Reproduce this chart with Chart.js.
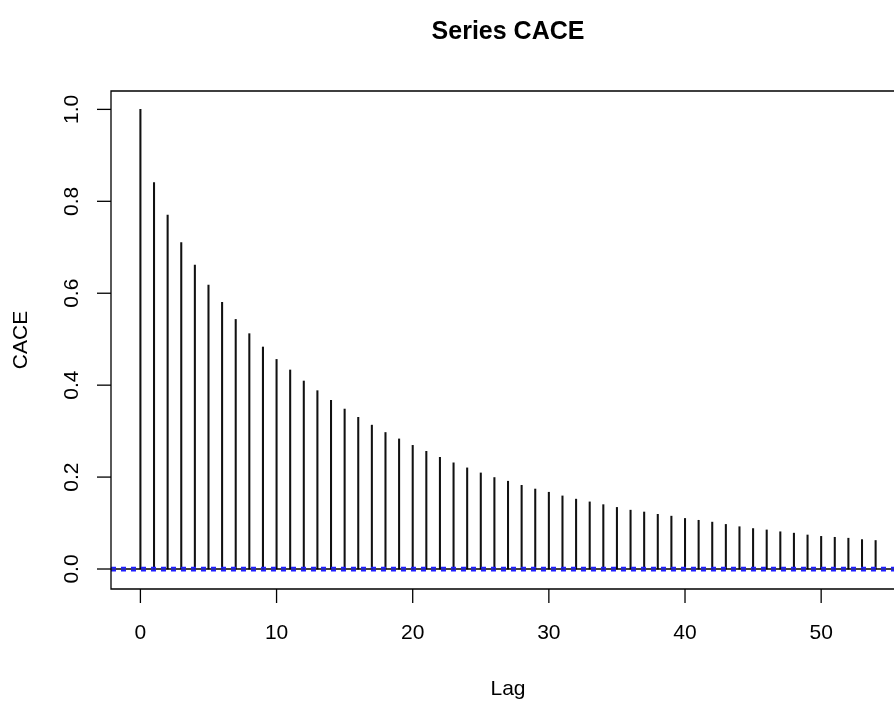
<!DOCTYPE html>
<html>
<head>
<meta charset="utf-8">
<title>Series CACE</title>
<script src="https://cdn.jsdelivr.net/npm/chart.js@4/dist/chart.umd.min.js"></script>
<style>
  html, body { margin: 0; padding: 0; background: #fff; overflow: hidden; }
  canvas { display: block; }
</style>
</head>
<body>
<canvas id="acfChart" width="894" height="701"></canvas>
<script>
// ACF values, one per lag
const lags = [0, 1, 2, 3, 4, 5, 6, 7, 8, 9, 10, 11, 12, 13, 14, 15, 16, 17, 18, 19,
    20, 21, 22, 23, 24, 25, 26, 27, 28, 29, 30, 31, 32, 33, 34, 35, 36, 37, 38, 39,
    40, 41, 42, 43, 44, 45, 46, 47, 48, 49, 50, 51, 52, 53, 54];
const acfValues = [1.000, 0.841, 0.770, 0.710, 0.661, 0.618, 0.580, 0.543, 0.512, 0.483,
    0.456, 0.433, 0.409, 0.388, 0.367, 0.348, 0.330, 0.313, 0.297, 0.283,
    0.269, 0.256, 0.243, 0.231, 0.220, 0.209, 0.199, 0.191, 0.182, 0.174,
    0.167, 0.159, 0.152, 0.146, 0.140, 0.134, 0.128, 0.124, 0.119, 0.115,
    0.110, 0.106, 0.102, 0.097, 0.092, 0.088, 0.085, 0.081, 0.078, 0.074,
    0.071, 0.069, 0.067, 0.064, 0.062];
const ciLimit = 0.003;   // +/- confidence bound (very large sample)
const xTicks = [0, 10, 20, 30, 40, 50];
const yTicks = [0.0, 0.2, 0.4, 0.6, 0.8, 1.0];
const lagRange = [-2.16, 56.16];

const FONT = "'Liberation Sans', Arial, Helvetica, sans-serif";

// R-style frame, ticks and labels drawn around the plot region
const baseGraphics = {
    id: 'baseGraphics',
    afterDraw(chart) {
        const ctx = chart.ctx;
        const area = chart.chartArea;
        const xs = chart.scales.x;
        const ys = chart.scales.y;
        const tickLen = 14;

        ctx.save();
        ctx.strokeStyle = '#000';
        ctx.lineWidth = 1.3;

        // box (right side falls outside the canvas)
        ctx.beginPath();
        ctx.moveTo(area.right + 4, area.top);
        ctx.lineTo(area.left, area.top);
        ctx.lineTo(area.left, area.bottom);
        ctx.lineTo(area.right + 4, area.bottom);
        ctx.stroke();

        ctx.fillStyle = '#000';
        ctx.font = '21px ' + FONT;

        // x axis
        ctx.textAlign = 'center';
        ctx.textBaseline = 'middle';
        xTicks.forEach(t => {
            const px = xs.getPixelForValue(t);
            ctx.beginPath();
            ctx.moveTo(px, area.bottom);
            ctx.lineTo(px, area.bottom + tickLen);
            ctx.stroke();
            ctx.fillText(String(t), px, 633);
        });

        // y axis, labels rotated like R's las = 0
        yTicks.forEach(t => {
            const py = ys.getPixelForValue(t);
            ctx.beginPath();
            ctx.moveTo(area.left, py);
            ctx.lineTo(area.left - tickLen, py);
            ctx.stroke();
            ctx.save();
            ctx.translate(72, py);
            ctx.rotate(-Math.PI / 2);
            ctx.fillText(t.toFixed(1), 0, 0);
            ctx.restore();
        });

        // axis titles
        ctx.fillText('Lag', 508, 689);
        ctx.save();
        ctx.translate(21, (area.top + area.bottom) / 2);
        ctx.rotate(-Math.PI / 2);
        ctx.fillText('CACE', 0, 0);
        ctx.restore();

        // main title
        ctx.font = 'bold 25px ' + FONT;
        ctx.fillText('Series CACE', 508, 32);
        ctx.restore();
    }
};

const ctx = document.getElementById('acfChart').getContext('2d');
new Chart(ctx, {
    type: 'bar',
    data: {
        datasets: [{
            type: 'bar',
            data: lags.map((lag, i) => ({ x: lag, y: acfValues[i] })),
            backgroundColor: '#111',
            barThickness: 1.4,
            order: 3
        }, {
            type: 'line',
            data: [{ x: lagRange[0], y: 0 }, { x: lagRange[1], y: 0 }],
            borderColor: '#000',
            borderWidth: 1.3,
            pointRadius: 0,
            order: 2
        }, {
            type: 'line',
            data: [{ x: lagRange[0], y: ciLimit }, { x: lagRange[1], y: ciLimit }],
            borderColor: '#1f1fff',
            borderWidth: 2,
            borderDash: [5, 5],
            pointRadius: 0,
            order: 1
        }, {
            type: 'line',
            data: [{ x: lagRange[0], y: -ciLimit }, { x: lagRange[1], y: -ciLimit }],
            borderColor: '#1f1fff',
            borderWidth: 2,
            borderDash: [5, 5],
            pointRadius: 0,
            order: 1
        }]
    },
    options: {
        responsive: false,
        animation: false,
        layout: {
            padding: { left: 111, top: 91, right: 0, bottom: 112 }
        },
        plugins: {
            legend: { display: false },
            tooltip: { enabled: false },
            title: { display: false }
        },
        scales: {
            x: {
                type: 'linear',
                offset: false,
                min: -2.16,
                max: 55.35,
                display: false
            },
            y: {
                type: 'linear',
                min: -0.0435,
                max: 1.04,
                display: false
            }
        }
    },
    plugins: [baseGraphics]
});
</script>
</body>
</html>
